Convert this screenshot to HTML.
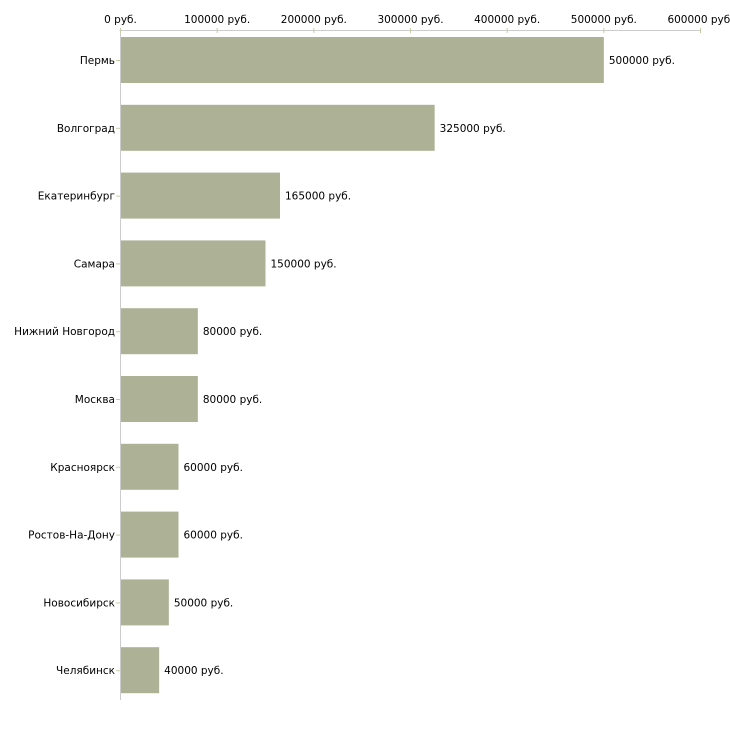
<!DOCTYPE html>
<html><head><meta charset="utf-8"><style>
body{margin:0;background:#fff}
svg text{font-family:"DejaVu Sans","Liberation Sans",sans-serif;font-size:10.5px;fill:#000}
</style></head><body>
<svg id="c" width="730" height="730"></svg>
<script>
const categories=["Пермь","Волгоград","Екатеринбург","Самара","Нижний Новгород","Москва","Красноярск","Ростов-На-Дону","Новосибирск","Челябинск"];
const values=[500000,325000,165000,150000,80000,80000,60000,60000,50000,40000];
const ticks=[0,100000,200000,300000,400000,500000,600000];
const svg=document.getElementById('c');
const NS='http://www.w3.org/2000/svg';
const x0=120.5,x1=700.5,maxV=600000,topY=26,step=67.8,barH=46;
const xs=v=>x0+(x1-x0)*v/maxV;
const yc=i=>topY+step*i+34;
function mk(t,a){const e=document.createElementNS(NS,t);for(const k in a)e.setAttribute(k,a[k]);svg.appendChild(e);return e;}
let e=mk('line',{x1:x0-1,x2:x1,y1:30.5,y2:30.5,stroke:'#cccccc'});


e=mk('line',{x1:x0,x2:x0,y1:30,y2:700,stroke:'#cccccc'});


ticks.forEach(t=>{
 const x=xs(t);
 let l=mk('line',{x1:x,x2:x,y1:28,y2:33,stroke:'#c8cca8'});
 
 
 let tx=mk('text',{x:x,y:23,'text-anchor':'middle'});tx.textContent=t+' руб.';
 
 
});
categories.forEach((c,i)=>{
 const y=yc(i);
 let b=mk('rect',{x:x0+0.5,y:y-barH/2,width:xs(values[i])-x0-0.5,height:barH,fill:'#adb296'});
 
 
 let l=mk('line',{x1:116,x2:120,y1:y+0.5,y2:y+0.5,stroke:'#c8cca8'});
 
 
 let t=mk('text',{x:115,y:y+4,'text-anchor':'end'});t.textContent=c;
 
 
 let v=mk('text',{x:xs(values[i])+5,y:y+4});v.textContent=values[i]+' руб.';
 
 
});
</script>
</body></html>
